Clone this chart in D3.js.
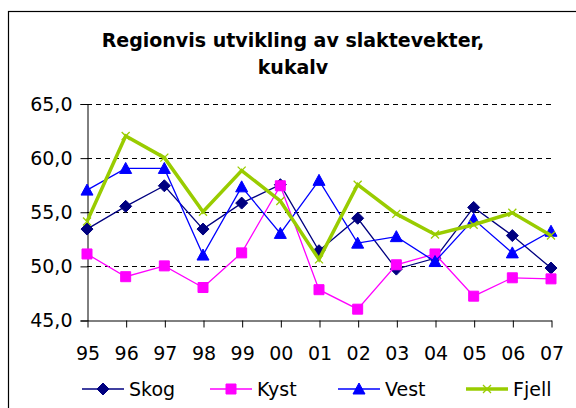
<!DOCTYPE html>
<html>
<head>
<meta charset="utf-8">
<script src="https://cdn.jsdelivr.net/npm/d3@7"></script>
<style>
  html, body { margin: 0; padding: 0; background: #fff; }
  svg { display: block; font-family: 'DejaVu Sans', sans-serif; }
</style>
</head>
<body>
<div class="linechart"></div>
<script>
// chart data
const years = ['95', '96', '97', '98', '99', '00', '01', '02', '03', '04', '05', '06', '07'];
const skog  = [53.4, 55.5, 57.4, 53.4, 55.8, 57.5, 51.4, 54.4, 49.7, 50.7, 55.4, 52.8, 49.8];
const kyst  = [51.1, 49.0, 50.0, 48.0, 51.2, 57.4, 47.8, 46.0, 50.1, 51.1, 47.2, 48.9, 48.8];
const vest  = [57.0, 59.0, 59.0, 51.0, 57.3, 53.0, 57.9, 52.1, 52.7, 50.4, 54.3, 51.2, 53.2];
const fjell = [54.1, 62.0, 60.0, 55.0, 58.8, 56.0, 50.6, 57.5, 54.8, 52.9, 53.8, 54.9, 52.8];
const seriesNames = ['Skog', 'Kyst', 'Vest', 'Fjell'];
const yTicks = [45, 50, 55, 60, 65];
const titleLines = ['Regionvis utvikling av slaktevekter,', 'kukalv'];

const width = 576;
const height = 408;
const margin = {top: 103.5, right: 25, bottom: 88, left: 87};

const colors = ['#000080', '#ff00ff', '#0000ff', '#99cc00'];
const strokeWidths = [1.3, 1.3, 1.3, 3.5];
// marker paths, centred on the point
const markers = [
  'M0,-6L6,0L0,6L-6,0Z',
  'M-5,-5H5V5H-5Z',
  'M0,-6L6,5H-6Z',
  'M-4,-4L4,4M4,-4L-4,4'
];

const series = [skog, kyst, vest, fjell].map((values, i) => {
  return {name: seriesNames[i], values: values};
});

const x = d3.scalePoint().domain(years).range([margin.left, width - margin.right]);
const y = d3.scaleLinear().domain([45, 65]).range([height - margin.bottom, margin.top]);
const fmt = (d) => d3.format('.1f')(d).replace('.', ',');

const svg = d3.select('.linechart').append('svg')
  .attr('width', width)
  .attr('height', height);

// outer chart frame (runs off the right and bottom edge)
svg.append('rect')
  .attr('x', 8.5).attr('y', 11.5)
  .attr('width', 600).attr('height', 420)
  .attr('fill', 'none')
  .attr('stroke', '#000')
  .attr('stroke-width', 1.2);

// title
svg.append('text')
  .attr('text-anchor', 'middle')
  .attr('font-size', 19)
  .attr('font-weight', 'bold')
  .selectAll('tspan')
  .data(titleLines)
  .enter().append('tspan')
  .attr('x', 293)
  .attr('y', (d, i) => 46.5 + i * 27)
  .text((d) => d);

// gridlines
svg.append('g')
  .selectAll('line')
  .data(yTicks.filter((d) => d > 45))
  .enter().append('line')
  .attr('x1', margin.left).attr('x2', width - margin.right)
  .attr('y1', (d) => Math.round(y(d)) + 0.5)
  .attr('y2', (d) => Math.round(y(d)) + 0.5)
  .attr('stroke', '#000')
  .attr('stroke-dasharray', '5,4');

// y axis
const yAxis = svg.append('g')
  .attr('transform', 'translate(' + (margin.left + 0.5) + ',0.5)')
  .call(d3.axisLeft(y).tickValues(yTicks).tickFormat(fmt).tickSize(7).tickPadding(8));
yAxis.select('.domain').attr('stroke', '#000');
yAxis.selectAll('.tick line').attr('stroke', '#000');
yAxis.selectAll('text')
  .attr('font-family', 'DejaVu Sans')
  .attr('font-size', 19)
  .attr('fill', '#000');

// x axis
const xAxis = svg.append('g')
  .attr('transform', 'translate(0.5,' + (Math.round(y(45)) + 0.5) + ')')
  .call(d3.axisBottom(x).tickSize(7).tickPadding(19).tickSizeOuter(0));
xAxis.select('.domain').attr('stroke', '#000');
xAxis.selectAll('.tick line').attr('stroke', '#000');
xAxis.selectAll('text')
  .attr('font-family', 'DejaVu Sans')
  .attr('font-size', 19)
  .attr('fill', '#000');

// lines and markers
const drawLine = d3.line()
  .x((d, i) => x(years[i]))
  .y((d) => y(d));

const lines = svg.selectAll('.serie')
  .data(series)
  .enter().append('g')
  .attr('class', 'serie');

lines.append('path')
  .attr('d', (d) => drawLine(d.values))
  .attr('fill', 'none')
  .attr('stroke', (d, i) => colors[i])
  .attr('stroke-width', (d, i) => strokeWidths[i])
  .attr('stroke-linejoin', 'miter');

lines.each(function (s, si) {
  d3.select(this).selectAll('.pt')
    .data(s.values)
    .enter().append('path')
    .attr('class', 'pt')
    .attr('transform', (d, i) => 'translate(' + x(years[i]) + ',' + y(d) + ')')
    .attr('d', markers[si])
    .attr('fill', si === 3 ? 'none' : colors[si])
    .attr('stroke', colors[si])
    .attr('stroke-width', si === 3 ? 1.3 : 1);
});

// legend
const legend = svg.selectAll('.legend')
  .data(series)
  .enter().append('g')
  .attr('class', 'legend')
  .attr('transform', (d, i) => 'translate(' + (82 + i * 128) + ',389)');

legend.append('line')
  .attr('x1', 0).attr('x2', 42)
  .attr('stroke', (d, i) => colors[i])
  .attr('stroke-width', (d, i) => strokeWidths[i]);

legend.append('path')
  .attr('transform', 'translate(21,0)')
  .attr('d', (d, i) => markers[i])
  .attr('fill', (d, i) => i === 3 ? 'none' : colors[i])
  .attr('stroke', (d, i) => colors[i])
  .attr('stroke-width', (d, i) => i === 3 ? 1.3 : 1);

legend.append('text')
  .attr('x', 47)
  .attr('dy', '0.36em')
  .attr('font-size', 19)
  .text((d) => d.name);
</script>
</body>
</html>
